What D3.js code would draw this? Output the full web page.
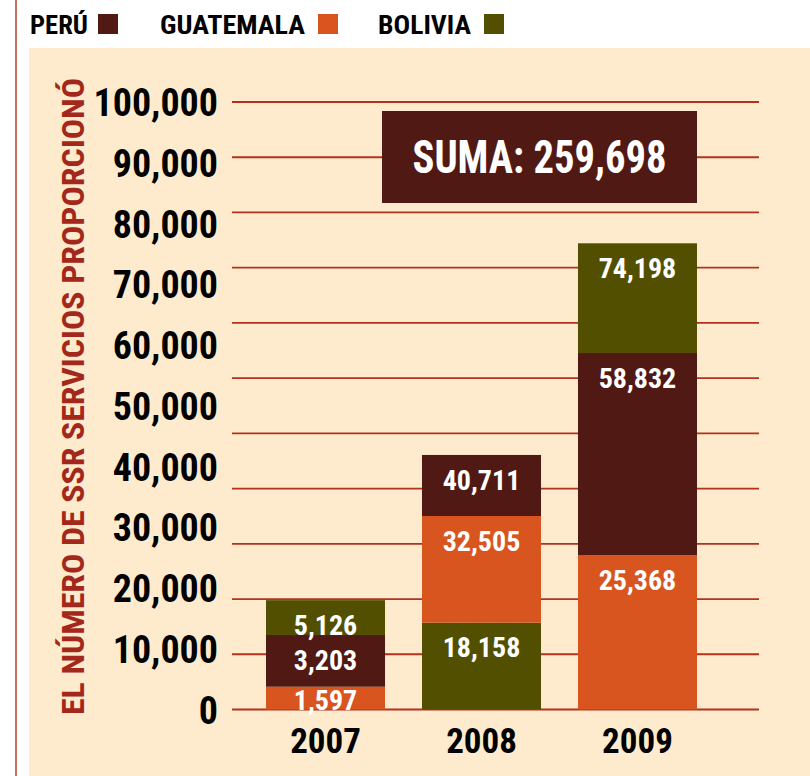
<!DOCTYPE html>
<html>
<head>
<meta charset="utf-8">
<script src="https://cdn.jsdelivr.net/npm/d3@7"></script>
<style>
  html, body { margin: 0; padding: 0; background: #fff; }
  svg { display: block; }
  text { font-family: "Roboto Condensed", Roboto, sans-serif; font-stretch: condensed; font-weight: bold; }
</style>
</head>
<body>
<div id="chart"></div>
<script>
// categories and series
const years = ["2007", "2008", "2009"];
const series = ["PERÚ", "GUATEMALA", "BOLIVIA"];

// numbers printed on the segments
const peruLabels = [3203, 40711, 58832];
const guatemalaLabels = [1597, 32505, 25368];
const boliviaLabels = [5126, 18158, 74198];

// segment heights as drawn against the printed axis (the figure is not drawn to scale)
const peruHeights = [8510, 10050, 33250];
const guatemalaHeights = [3750, 17550, 25430];
const boliviaHeights = [5740, 14300, 18060];

// bottom -> top order of the segments in each bar
const stackOrder = [
  ["GUATEMALA", "PERÚ", "BOLIVIA"],
  ["BOLIVIA", "GUATEMALA", "PERÚ"],
  ["GUATEMALA", "PERÚ", "BOLIVIA"]
];

const yTicks = [0, 10000, 20000, 30000, 40000, 50000, 60000, 70000, 80000, 90000, 100000];
const gridCount = 12;
const total = 259698;

const W = 810, H = 776;

const color = {
  "PERÚ": "#511914",
  "GUATEMALA": "#d9551f",
  "BOLIVIA": "#534f00"
};
const labelsBy = { "PERÚ": peruLabels, "GUATEMALA": guatemalaLabels, "BOLIVIA": boliviaLabels };
const heightsBy = { "PERÚ": peruHeights, "GUATEMALA": guatemalaHeights, "BOLIVIA": boliviaHeights };

const svg = d3.select("#chart")
  .append("svg")
  .attr("width", W)
  .attr("height", H);

// page frame
svg.append("rect").attr("x", 29).attr("y", 48).attr("width", W - 29).attr("height", H - 48).attr("fill", "#feebcd");
svg.append("line").attr("x1", 16).attr("x2", 16).attr("y1", 0).attr("y2", H)
  .attr("stroke", "#b0402f").attr("stroke-width", 1.5);

// scales
const y = d3.scaleLinear().domain([0, 100000]).range([709.5, 102]);
const grid = d3.scaleLinear().domain([0, gridCount - 1]).range([709.5, 102]);
const x = d3.scaleBand().domain(years).range([266, 697]).paddingInner(0.237).paddingOuter(0);

// grid lines (the figure has 12 rules, not aligned to the tick labels)
svg.append("g")
  .selectAll("line")
  .data(d3.range(gridCount))
  .join("line")
  .attr("x1", 232).attr("x2", 759)
  .attr("y1", d => grid(d)).attr("y2", d => grid(d))
  .attr("stroke", "#b2311f")
  .attr("stroke-width", 1.8);

// y axis labels
const yAxis = svg.append("g")
  .attr("transform", "translate(218,0)")
  .call(d3.axisLeft(y).tickValues(yTicks).tickFormat(d3.format(",")).tickSize(0).tickPadding(0));
yAxis.select(".domain").remove();
yAxis.selectAll("text")
  .attr("dy", "0.36em")
  .style("font-family", null)
  .style("font-size", "38px")
  .attr("fill", "#000");

// y axis title
svg.append("text")
  .attr("transform", `translate(84, ${(78 + 715) / 2}) rotate(-90)`)
  .attr("text-anchor", "middle")
  .attr("textLength", 637)
  .attr("lengthAdjust", "spacingAndGlyphs")
  .style("font-size", "32px")
  .attr("fill", "#a3281b")
  .text("EL NÚMERO DE SSR SERVICIOS PROPORCIONÓ");

// stacked segments
const segments = [];
years.forEach((yr, i) => {
  let base = 0;
  stackOrder[i].forEach(s => {
    const h = heightsBy[s][i];
    segments.push({ year: yr, key: s, y0: base, y1: base + h, label: labelsBy[s][i] });
    base += h;
  });
});

svg.append("g")
  .selectAll("rect")
  .data(segments)
  .join("rect")
  .attr("x", d => x(d.year))
  .attr("width", x.bandwidth())
  .attr("y", d => y(d.y1))
  .attr("height", d => y(d.y0) - y(d.y1))
  .attr("fill", d => color[d.key]);

svg.append("g")
  .selectAll("text")
  .data(segments)
  .join("text")
  .attr("x", d => x(d.year) + x.bandwidth() / 2)
  .attr("y", d => Math.min(y(d.y1) + 24.5, y(d.y0) - 10))
  .attr("dy", "0.36em")
  .attr("text-anchor", "middle")
  .style("font-size", "28px")
  .attr("fill", "#fff")
  .text(d => d3.format(",")(d.label));

// x axis labels
const xAxis = svg.append("g")
  .attr("transform", "translate(0,740)")
  .call(d3.axisBottom(x).tickSize(0).tickPadding(0));
xAxis.select(".domain").remove();
xAxis.selectAll("text")
  .attr("y", 0)
  .attr("dy", "0.36em")
  .style("font-family", null)
  .style("font-size", "35px")
  .attr("fill", "#000");

// total box
svg.append("rect")
  .attr("x", 382).attr("y", 111).attr("width", 315).attr("height", 92)
  .attr("fill", "#511914");
svg.append("text")
  .attr("x", 539.5).attr("y", 156)
  .attr("dy", "0.36em")
  .attr("text-anchor", "middle")
  .attr("textLength", 254)
  .attr("lengthAdjust", "spacingAndGlyphs")
  .style("font-size", "46px")
  .attr("fill", "#fff")
  .text("SUMA: " + d3.format(",")(total));

// legend
const legendX = [30, 160, 378];
const legendW = [58, 145, 93];
const legendGap = [10, 13, 13];
const legend = svg.append("g");
series.forEach((s, i) => {
  legend.append("text")
    .attr("x", legendX[i]).attr("y", 34)
    .attr("textLength", legendW[i])
    .attr("lengthAdjust", "spacingAndGlyphs")
    .style("font-size", "25px")
    .attr("fill", "#000")
    .text(s);
  legend.append("rect")
    .attr("x", legendX[i] + legendW[i] + legendGap[i]).attr("y", 14)
    .attr("width", 20).attr("height", 20)
    .attr("fill", color[s]);
});
</script>
</body>
</html>
